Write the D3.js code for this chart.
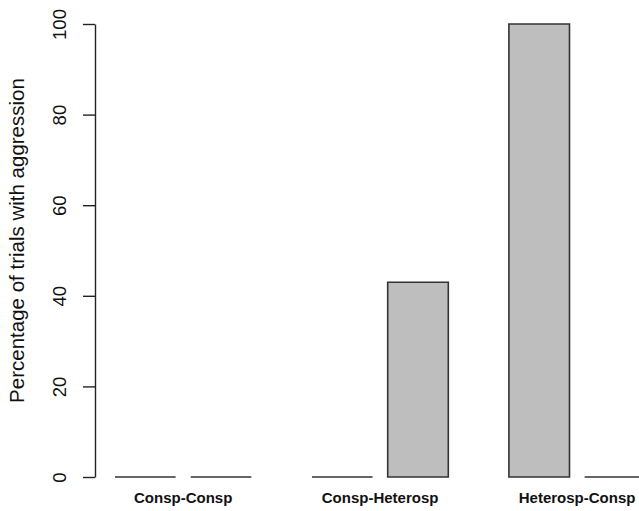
<!DOCTYPE html>
<html>
<head>
<meta charset="utf-8">
<title>aggression barplot</title>
<script src="https://cdn.jsdelivr.net/npm/d3@7"></script>
<style>
  body { margin: 0; background: #fff; }
  text { font-family: "Liberation Sans", Arial, sans-serif; fill: #111; }
</style>
</head>
<body>
<div id="chart"></div>
<script>
// data
var groups = ["Consp-Consp", "Consp-Heterosp", "Heterosp-Consp"];
var barsA = [0, 0, 100];   // first bar of each group
var barsB = [0, 43, 0];    // second bar of each group
var yTicks = [0, 20, 40, 60, 80, 100];

var w = 639, h = 511;

var svg = d3.select("#chart").append("svg")
  .attr("width", w)
  .attr("height", h);

// barplot units: bar width 1, gap 0.25 inside a group, 1 between groups
var x = d3.scaleLinear().domain([0, 8.75]).range([115, 115 + 8.75 * 60.6]);
var y = d3.scaleLinear().domain([0, 100]).range([477, 24]);

var bars = [];
groups.forEach(function (g, i) {
  bars.push({ g: i, j: 0, v: barsA[i] });
  bars.push({ g: i, j: 1, v: barsB[i] });
});

// path instead of rect so zero bars still show up as a flat line
svg.selectAll("path.bar")
  .data(bars)
  .enter()
  .append("path")
  .attr("class", "bar")
  .attr("d", function (d) {
    var u = d.g * 3.25 + d.j * 1.25;
    var x0 = x(u), x1 = x(u + 1);
    return "M" + x0 + "," + y(0) + "L" + x0 + "," + y(d.v) +
           "L" + x1 + "," + y(d.v) + "L" + x1 + "," + y(0) + "Z";
  })
  .attr("fill", "#bebebe")
  .attr("stroke", "#333")
  .attr("stroke-width", 1.6);

// y axis
var yAxis = d3.axisLeft(y).tickValues(yTicks).tickSize(12).tickSizeOuter(0);
var ga = svg.append("g")
  .attr("transform", "translate(95,0)")
  .call(yAxis);
ga.select(".domain").attr("stroke", "#222").attr("stroke-width", 1.4);
ga.selectAll(".tick line").attr("stroke", "#222").attr("stroke-width", 1.4);
ga.selectAll(".tick text")
  .attr("x", null)
  .attr("text-anchor", "middle")
  .attr("font-size", "18.5px")
  .attr("transform", "translate(-26,0) rotate(-90)")
  .attr("dy", "-0.15em");

// group labels
svg.selectAll("text.grp")
  .data(groups)
  .enter()
  .append("text")
  .attr("class", "grp")
  .attr("x", function (d, i) { return x(i * 3.25 + 1.125); })
  .attr("y", 503)
  .attr("text-anchor", "middle")
  .attr("font-size", "15px")
  .attr("font-weight", "bold")
  .text(function (d) { return d; });

// axis title
svg.append("text")
  .attr("transform", "translate(24," + ((y(0) + y(100)) / 2 - 10) + ") rotate(-90)")
  .attr("text-anchor", "middle")
  .attr("font-size", "20.5px")
  .text("Percentage of trials with aggression");
</script>
</body>
</html>
